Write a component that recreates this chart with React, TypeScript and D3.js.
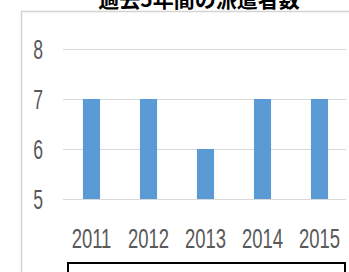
import React, { useEffect, useRef } from 'react';
import * as d3 from 'd3';

const title = '過去5年間の派遣者数';
const years = ['2011', '2012', '2013', '2014', '2015'];
const counts = [7, 7, 6, 7, 7];
const yTicks = [5, 6, 7, 8];

const App = () => {
  const ref = useRef<SVGSVGElement | null>(null);

  useEffect(() => {
    const width = 349;
    const height = 272;

    document.body.style.margin = '0';
    document.body.style.overflow = 'hidden';

    const svg = d3.select(ref.current);
    // Clear the previous drawing
    svg.selectAll('*').remove();

    svg.attr('width', width).attr('height', height);

    svg.append('rect')
      .attr('width', width)
      .attr('height', height)
      .attr('fill', '#fff');

    // chart frame, runs off the right and bottom edges
    svg.append('path')
      .attr('d', `M21.5,${height} V11.5 H${width}`)
      .attr('fill', 'none')
      .attr('stroke', '#d4d4d4')
      .attr('stroke-width', 1.5);

    svg.append('text')
      .attr('x', 199)
      .attr('y', 7)
      .attr('text-anchor', 'middle')
      .style('font-family', '"Noto Sans CJK JP", sans-serif')
      .style('font-weight', 'bold')
      .style('font-size', '21px')
      .style('fill', '#000')
      .text(title);

    const x = d3.scaleBand()
      .domain(years)
      .range([63, 348])
      .paddingInner(0.7)
      .paddingOuter(0.35);

    const y = d3.scaleLinear().domain([5, 8]).range([199, 49]);

    const labelFont = '"Liberation Sans Narrow", sans-serif';

    // gridlines
    svg.append('g')
      .selectAll('line')
      .data(yTicks)
      .enter()
      .append('line')
      .attr('x1', 63)
      .attr('x2', 346)
      .attr('y1', (d) => Math.round(y(d)) + 0.5)
      .attr('y2', (d) => Math.round(y(d)) + 0.5)
      .attr('stroke', '#d9d9d9')
      .attr('stroke-width', 1.2);

    // y tick labels
    svg.append('g')
      .selectAll('text')
      .data(yTicks)
      .enter()
      .append('text')
      .attr('transform', (d) => `translate(43,${y(d) + 10}) scale(0.63,1)`)
      .attr('text-anchor', 'end')
      .style('font-family', labelFont)
      .style('font-size', '28px')
      .style('fill', '#595959')
      .text((d) => d);

    // bars
    svg.append('g')
      .selectAll('rect')
      .data(counts)
      .enter()
      .append('rect')
      .attr('x', (d, i) => x(years[i]) as number)
      .attr('y', (d) => y(d))
      .attr('width', x.bandwidth())
      .attr('height', (d) => y(5) - y(d))
      .attr('fill', '#5b9bd5');

    // x labels
    svg.append('g')
      .selectAll('text')
      .data(years)
      .enter()
      .append('text')
      .attr('transform', (d) => `translate(${(x(d) as number) + x.bandwidth() / 2},248) scale(0.66,1)`)
      .attr('text-anchor', 'middle')
      .style('font-family', labelFont)
      .style('font-size', '28px')
      .style('fill', '#595959')
      .text((d) => d);

    // legend box (empty)
    svg.append('rect')
      .attr('x', 68)
      .attr('y', 263)
      .attr('width', 277)
      .attr('height', 20)
      .attr('fill', '#fff')
      .attr('stroke', '#000')
      .attr('stroke-width', 2);
  }, []);

  return <svg ref={ref} style={{ position: 'absolute', left: 0, top: 0, display: 'block' }}></svg>;
};

export default App;
